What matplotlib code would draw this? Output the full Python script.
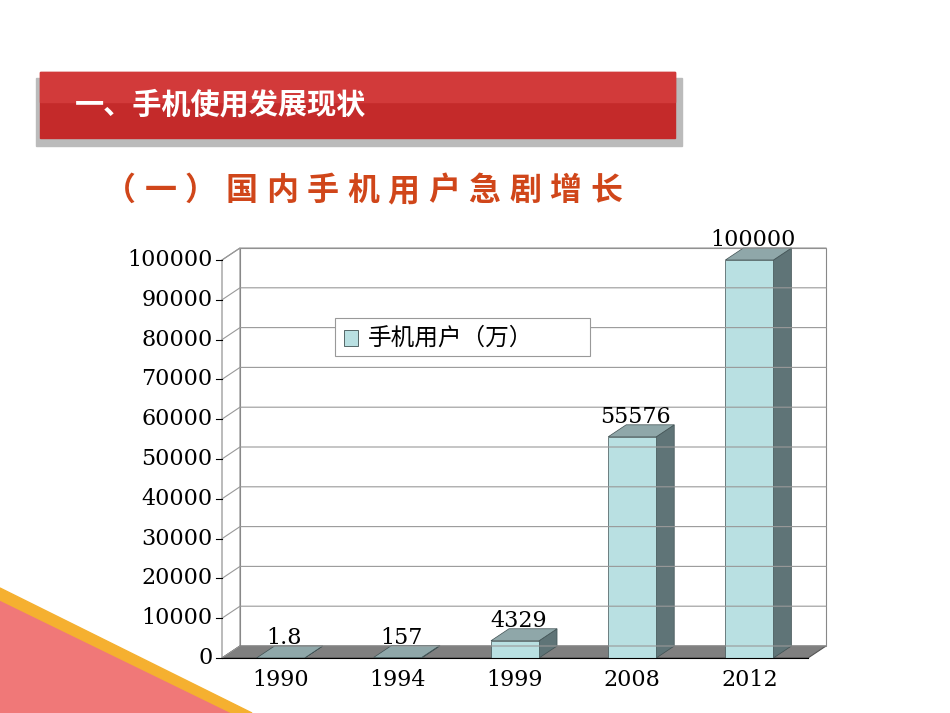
import matplotlib
matplotlib.use("Agg")
import matplotlib.pyplot as plt
from matplotlib.patches import Polygon, Rectangle

plt.rcParams['font.family'] = ['Noto Sans CJK SC', 'DejaVu Sans']

categories = ["1990", "1994", "1999", "2008", "2012"]
values = [1.8, 157, 4329, 55576, 100000]
value_labels = ["1.8", "157", "4329", "55576", "100000"]
yticks = list(range(0, 100001, 10000))
series_name = "手机用户（万）"
title = "一、手机使用发展现状"
subtitle = "（一）国内手机用户急剧增长"

W, H = 950, 713
fig = plt.figure(figsize=(9.5, 7.13), dpi=100)
bg = fig.add_axes([0, 0, 1, 1])
bg.set_xlim(0, W); bg.set_ylim(H, 0); bg.axis('off')

# bottom-left decoration
bg.add_patch(Polygon([(0, 600), (0, 713), (232, 713)], closed=True, color='#F07878', zorder=1))
bg.add_patch(Polygon([(0, 588), (0, 600), (232, 713), (252, 713)], closed=True, color='#F5B030', zorder=1))

# banner
bg.add_patch(Rectangle((36, 78), 646, 68, color='#BBBBBB', zorder=1))
bg.add_patch(Rectangle((40, 72), 635, 66, color='#C42A2A', zorder=2))
bg.add_patch(Rectangle((40, 72), 635, 30, color='#D23A3A', zorder=2))
bg.text(75, 104, title, color='white', fontsize=21, fontweight='bold', va='center', ha='left', zorder=3)
step = 40.5
for k, ch in enumerate(subtitle):
    bg.text(120 + k * step, 191, ch, color='#D0461A', fontsize=23, fontweight='bold', fontstyle='italic',
            va='center', ha='center', zorder=3)

# chart axes: front plane
x0, x1, yb, yt = 222, 808, 658, 260
ax = fig.add_axes([x0 / W, (H - yb) / H, (x1 - x0) / W, (yb - yt) / H])
ax.set_xlim(-0.5, 4.5); ax.set_ylim(0, 100000)
ax.axis('off')
dx = 18 / ((x1 - x0) / 5)
dy = 12 / ((yb - yt) / 100000)
kw = dict(clip_on=False)

ax.add_patch(Polygon([(-0.5 + dx, dy), (4.5 + dx, dy), (4.5 + dx, 100000 + dy), (-0.5 + dx, 100000 + dy)],
                     closed=True, fc='white', ec='#888888', lw=0.8, **kw))
ax.add_patch(Polygon([(-0.5, 0), (-0.5 + dx, dy), (-0.5 + dx, 100000 + dy), (-0.5, 100000)],
                     closed=True, fc='white', ec='#888888', lw=0.8, **kw))
for v in yticks:
    ax.plot([-0.5, -0.5 + dx, 4.5 + dx], [v, v + dy, v + dy], color='#999999', lw=0.8, clip_on=False)
    ax.plot([-0.55, -0.5], [v, v], color='black', lw=0.8, clip_on=False)
    ax.text(-0.58, v, str(v), ha='right', va='center', fontsize=16, family='DejaVu Serif')
ax.add_patch(Polygon([(-0.5, 0), (4.5, 0), (4.5 + dx, dy), (-0.5 + dx, dy)],
                     closed=True, fc='#7F7F7F', ec='#555555', lw=0.8, **kw))
ax.plot([-0.5, 4.5], [0, 0], color='black', lw=0.8, clip_on=False)

bw = 0.41
for i, (c, v, lab) in enumerate(zip(categories, values, value_labels)):
    l, r = i - bw / 2, i + bw / 2
    ax.add_patch(Polygon([(r, 0), (r + dx, dy), (r + dx, v + dy), (r, v)], closed=True,
                         fc='#5F7477', ec='#3F5052', lw=0.5, **kw))
    ax.add_patch(Polygon([(l, v), (r, v), (r + dx, v + dy), (l + dx, v + dy)], closed=True,
                         fc='#8FA7A9', ec='#3F5052', lw=0.5, **kw))
    ax.add_patch(Rectangle((l, 0), bw, v, fc='#B9E0E2', ec='#3F5052', lw=0.5, **kw))
    ax.text(i + 0.03, v + dy - 800, lab, ha='center', va='bottom', fontsize=16, family='DejaVu Serif')
    ax.text(i, -2800, c, ha='center', va='top', fontsize=16, family='DejaVu Serif')

# legend on top layer
lg = fig.add_axes([0, 0, 1, 1])
lg.set_xlim(0, W); lg.set_ylim(H, 0); lg.axis('off'); lg.patch.set_alpha(0)
lg.add_patch(Rectangle((335, 318), 255, 38, fc='white', ec='#999999', lw=0.8))
lg.add_patch(Rectangle((344, 330), 14, 16, fc='#B9E0E2', ec='#3F5052', lw=0.6))
lg.text(368, 338, series_name, fontsize=17, va='center', ha='left')

fig.savefig("out.png", dpi=100)
